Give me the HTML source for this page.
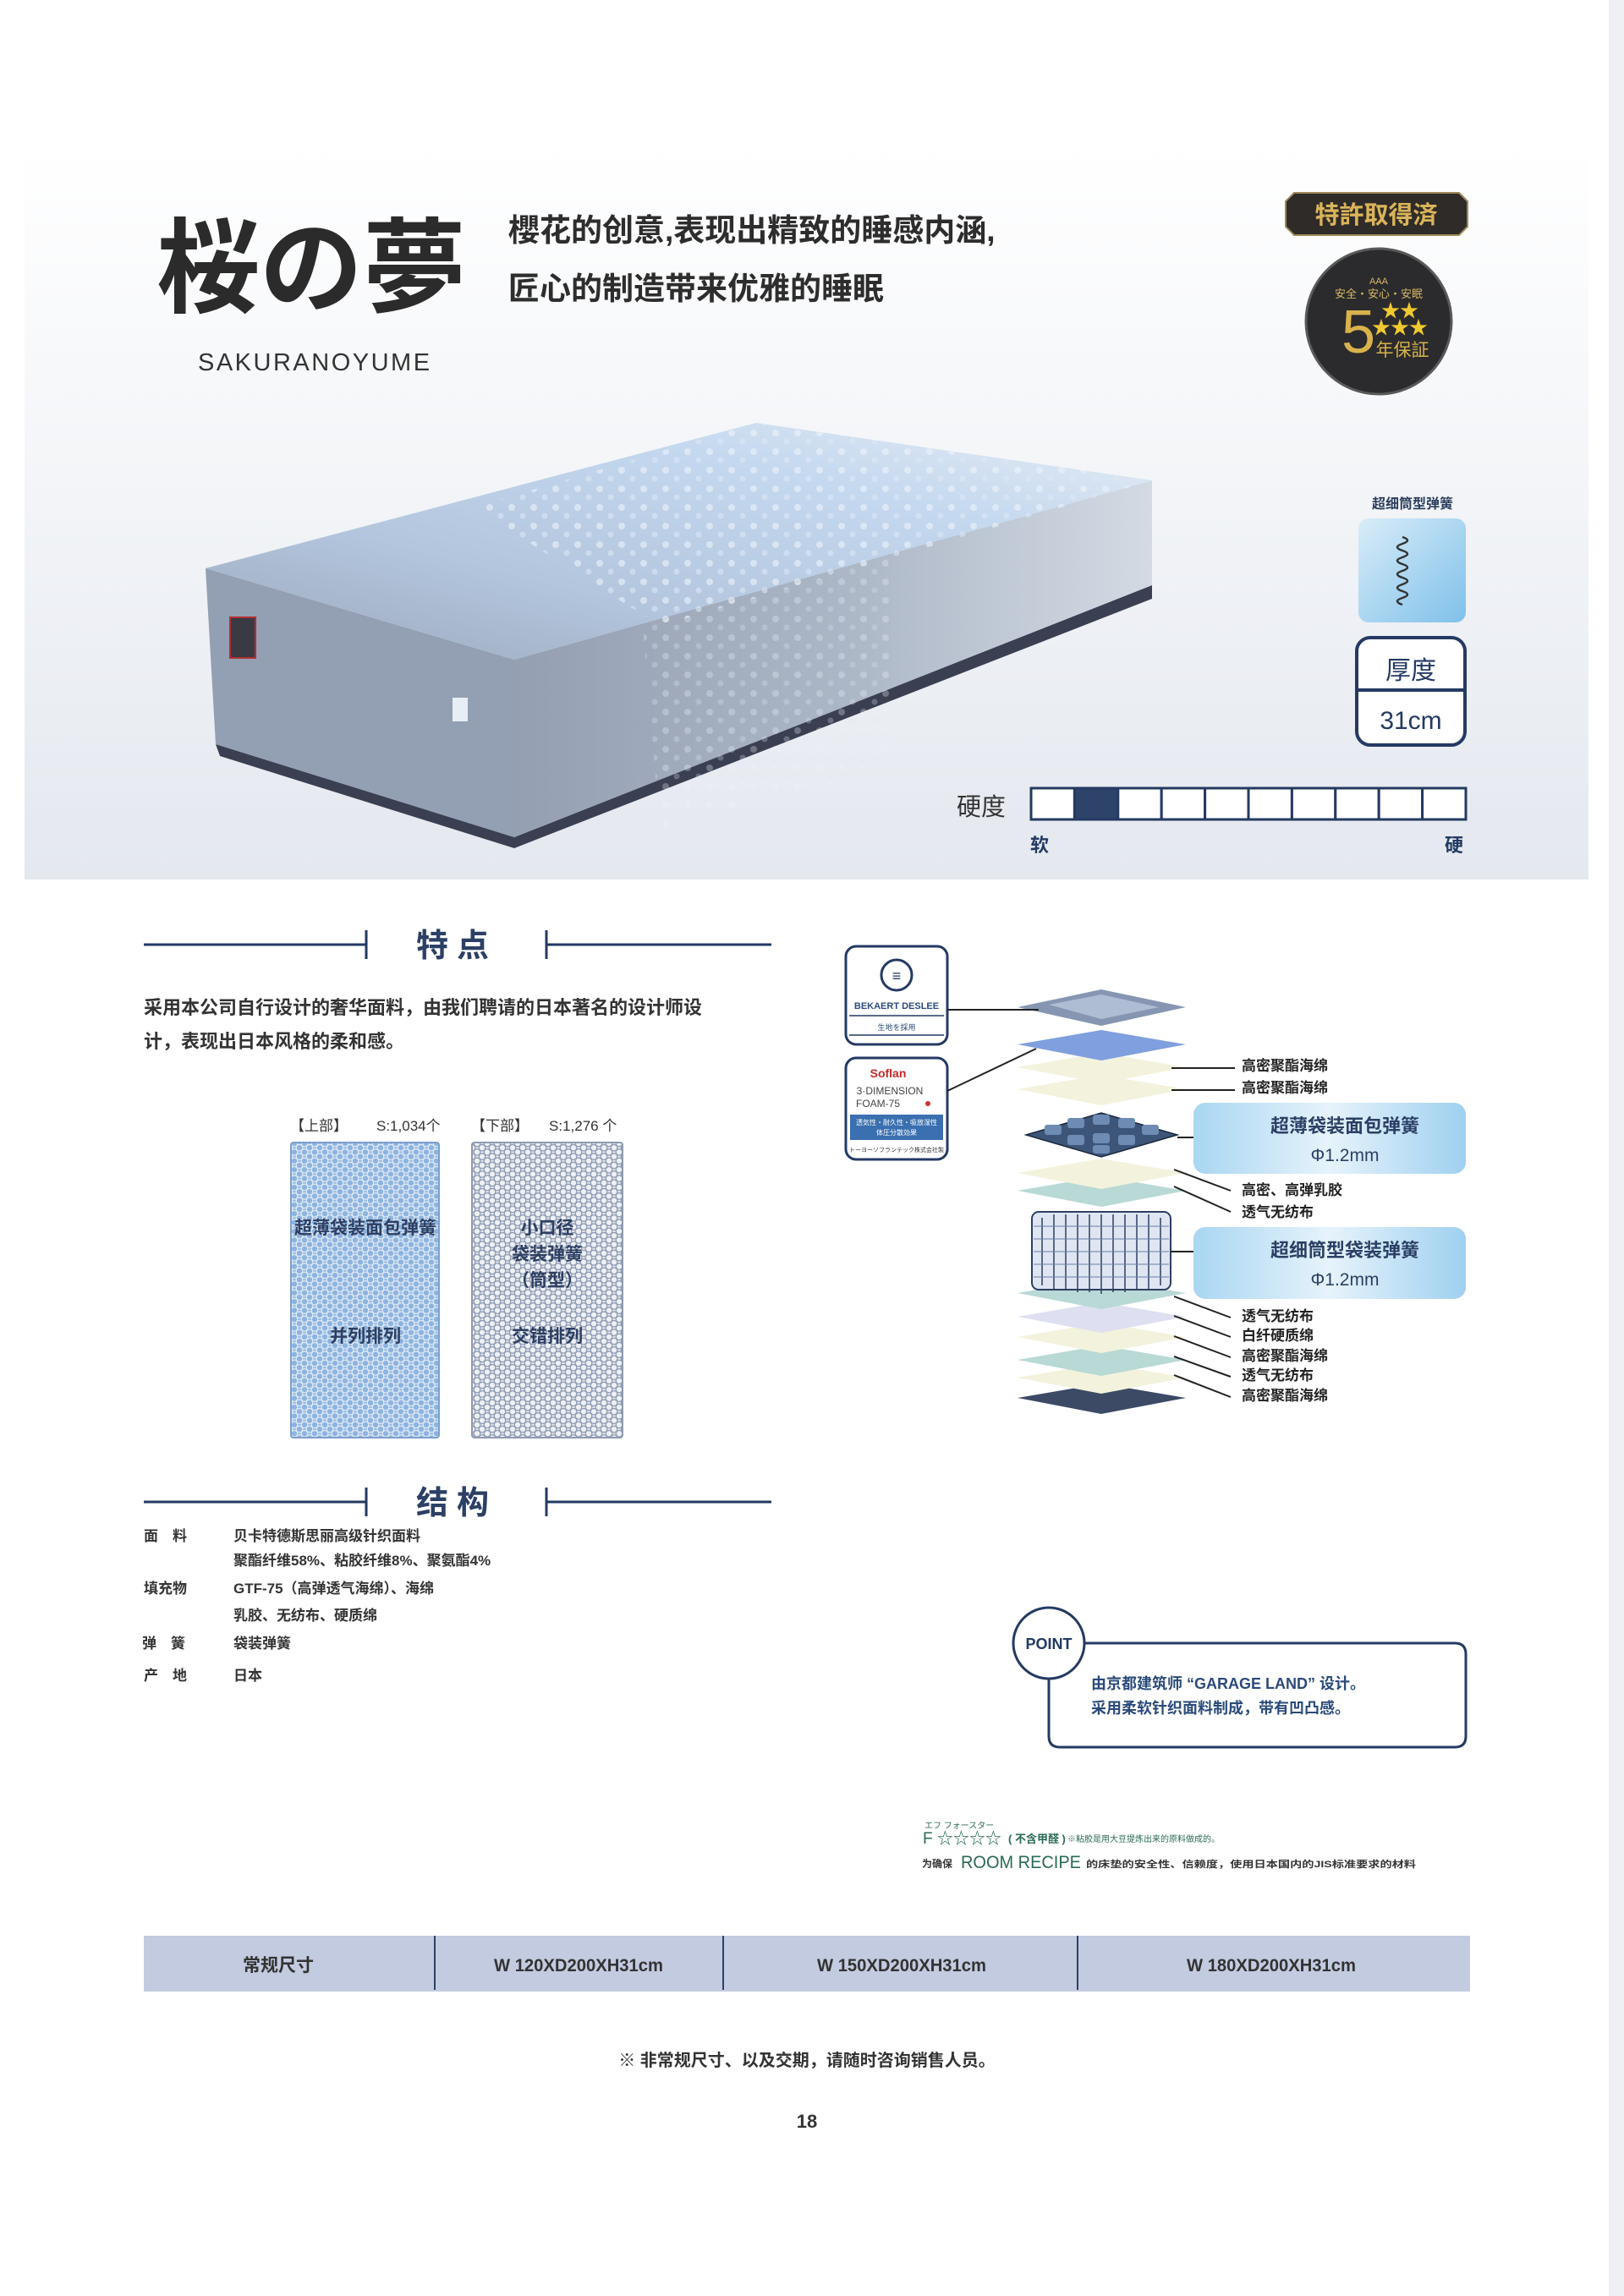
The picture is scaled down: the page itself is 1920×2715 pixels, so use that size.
<!DOCTYPE html>
<html><head><meta charset="utf-8">
<style>
html,body{margin:0;padding:0;background:#fff;}
body{width:1920px;height:2715px;overflow:hidden;position:relative;font-family:"Liberation Sans","Noto Sans CJK SC",sans-serif;}
svg{position:absolute;left:0;top:0;}
text{font-family:"Liberation Sans","Noto Sans CJK SC",sans-serif;}
</style></head>
<body>
<svg width="1920" height="2715" viewBox="0 0 1920 2715" xmlns="http://www.w3.org/2000/svg">
<defs>
<linearGradient id="bg" x1="0" y1="0" x2="0" y2="1">
<stop offset="0" stop-color="#ffffff"/><stop offset="0.45" stop-color="#f3f5f8"/><stop offset="1" stop-color="#e4e8ef"/>
</linearGradient>
<linearGradient id="topf" x1="0" y1="1" x2="1" y2="0">
<stop offset="0" stop-color="#9aa6b9"/><stop offset="0.35" stop-color="#b3c6de"/><stop offset="0.7" stop-color="#c4d8ef"/><stop offset="1" stop-color="#e8eef5"/>
</linearGradient>
<linearGradient id="sidef" x1="0" y1="0" x2="1" y2="0">
<stop offset="0" stop-color="#959fb2"/><stop offset="0.5" stop-color="#aab5c5"/><stop offset="1" stop-color="#d3dae3"/>
</linearGradient>
<linearGradient id="spr" x1="0" y1="0" x2="1" y2="1">
<stop offset="0" stop-color="#d9ecf8"/><stop offset="1" stop-color="#7fc1ea"/>
</linearGradient>
<linearGradient id="lbl" x1="0" y1="0" x2="1" y2="0">
<stop offset="0" stop-color="#a9d6f2"/><stop offset="0.5" stop-color="#e6f3fb"/><stop offset="1" stop-color="#9fd0f0"/>
</linearGradient>
<pattern id="hexA" width="12" height="10.4" patternUnits="userSpaceOnUse">
<rect width="12" height="10.4" fill="#8db3df"/>
<circle cx="6" cy="5.2" r="3.8" fill="none" stroke="#dbe7f5" stroke-width="1.3"/>
<circle cx="0" cy="0" r="3.8" fill="none" stroke="#dbe7f5" stroke-width="1.3"/>
<circle cx="12" cy="0" r="3.8" fill="none" stroke="#dbe7f5" stroke-width="1.3"/>
<circle cx="0" cy="10.4" r="3.8" fill="none" stroke="#dbe7f5" stroke-width="1.3"/>
<circle cx="12" cy="10.4" r="3.8" fill="none" stroke="#dbe7f5" stroke-width="1.3"/>
</pattern>
<pattern id="hexB" width="12" height="10.4" patternUnits="userSpaceOnUse">
<rect width="12" height="10.4" fill="#eef0f4"/>
<circle cx="6" cy="5.2" r="3.8" fill="none" stroke="#8e9bb3" stroke-width="1.3"/>
<circle cx="0" cy="0" r="3.8" fill="none" stroke="#8e9bb3" stroke-width="1.3"/>
<circle cx="12" cy="0" r="3.8" fill="none" stroke="#8e9bb3" stroke-width="1.3"/>
<circle cx="0" cy="10.4" r="3.8" fill="none" stroke="#8e9bb3" stroke-width="1.3"/>
<circle cx="12" cy="10.4" r="3.8" fill="none" stroke="#8e9bb3" stroke-width="1.3"/>
</pattern>
<pattern id="flw" width="26" height="22" patternUnits="userSpaceOnUse">
<circle cx="7" cy="6" r="4" fill="#eef4fb" opacity="0.85"/>
<circle cx="20" cy="16" r="3.5" fill="#dfe9f6" opacity="0.8"/>
</pattern>
</defs>

<rect x="1902" y="0" width="18" height="2715" fill="#eef0f3"/>
<rect x="29" y="170" width="1849" height="870" fill="url(#bg)"/>

<text x="185" y="360" font-family="'Noto Serif CJK SC','Liberation Serif',serif" font-weight="bold" font-size="122" fill="#2b2b2b">桜の夢</text>
<text x="234" y="438" font-size="29" fill="#333" letter-spacing="2.5">SAKURANOYUME</text>
<text x="601" y="285" font-size="37" font-weight="bold" fill="#2d2d2d">櫻花的创意,表现出精致的睡感内涵,</text>
<text x="601" y="354" font-size="37" font-weight="bold" fill="#2d2d2d">匠心的制造带来优雅的睡眠</text>

<path d="M1530 228 H1725 L1735 238 V268 L1725 278 H1530 L1520 268 V238 Z" fill="#2f2b28" stroke="#9d8a5a" stroke-width="2"/>
<text x="1627" y="264" text-anchor="middle" font-size="29" font-weight="bold" fill="#d9b45a">特許取得済</text>
<circle cx="1630" cy="380" r="86" fill="#2b2b2d" stroke="#595959" stroke-width="3"/>
<text x="1630" y="336" text-anchor="middle" font-size="11" fill="#d8b767">AAA</text>
<text x="1630" y="352" text-anchor="middle" font-size="13" fill="#d8b767">安全・安心・安眠</text>
<text x="1606" y="417" text-anchor="middle" font-size="72" fill="#d9b24c">5</text>
<text x="1655" y="375" text-anchor="middle" font-size="22" fill="#f0c830">★★</text>
<text x="1655" y="395" text-anchor="middle" font-size="22" fill="#f0c830">★★★</text>
<text x="1658" y="421" text-anchor="middle" font-size="21" fill="#d9b24c">年保証</text>

<polygon points="255,880 608,990 1362,692 1362,708 608,1003 260,894" fill="#3a3f52"/>
<polygon points="243,672 608,780 608,990 255,880" fill="#939fb3"/>
<polygon points="608,780 1362,568 1362,692 608,990" fill="url(#sidef)"/>
<polygon points="243,672 894,500 1362,568 608,780" fill="url(#topf)"/>
<polygon points="560,600 894,500 1362,568 1100,646 780,740" fill="url(#flw)" opacity="0.7"/>
<polygon points="760,740 1050,660 1060,900 780,980" fill="url(#flw)" opacity="0.35"/>
<rect x="272" y="730" width="30" height="48" fill="#3a3a44" stroke="#b03030" stroke-width="2"/>
<rect x="535" y="825" width="18" height="28" fill="#e8eef5"/>

<text x="1670" y="601" text-anchor="middle" font-size="16" font-weight="bold" fill="#2a3c5c">超细筒型弹簧</text>
<rect x="1606" y="613" width="127" height="123" rx="12" fill="url(#spr)"/>
<path d="M1658 635 q12 4 0 8 q-12 4 0 8 q12 4 0 8 q-12 4 0 8 q12 4 0 8 q-12 4 0 8 q12 4 0 8 q-12 4 0 8 q12 4 0 8 q-12 4 0 8" fill="none" stroke="#333" stroke-width="2.5"/>
<rect x="1604" y="754" width="128" height="127" rx="16" fill="#fff" stroke="#243a63" stroke-width="4"/>
<line x1="1604" y1="816" x2="1732" y2="816" stroke="#243a63" stroke-width="4"/>
<text x="1668" y="803" text-anchor="middle" font-size="30" fill="#243a63">厚度</text>
<text x="1668" y="862" text-anchor="middle" font-size="30" fill="#243a63">31cm</text>

<text x="1131" y="964" font-size="29" fill="#333">硬度</text>
<g stroke="#243a63" stroke-width="3" fill="#fff">
<rect x="1219" y="932" width="51.4" height="37"/><rect x="1270.4" y="932" width="51.4" height="37" fill="#2d4468"/>
<rect x="1321.8" y="932" width="51.4" height="37"/><rect x="1373.2" y="932" width="51.4" height="37"/>
<rect x="1424.6" y="932" width="51.4" height="37"/><rect x="1476" y="932" width="51.4" height="37"/>
<rect x="1527.4" y="932" width="51.4" height="37"/><rect x="1578.8" y="932" width="51.4" height="37"/>
<rect x="1630.2" y="932" width="51.4" height="37"/><rect x="1681.6" y="932" width="51.4" height="37"/>
</g>
<text x="1229" y="1007" text-anchor="middle" font-size="22" font-weight="bold" fill="#243a63">软</text>
<text x="1719" y="1007" text-anchor="middle" font-size="22" font-weight="bold" fill="#243a63">硬</text>

<g stroke="#243a63" stroke-width="3">
<line x1="170" y1="1117" x2="433" y2="1117"/><line x1="433" y1="1100" x2="433" y2="1134"/>
<line x1="646" y1="1100" x2="646" y2="1134"/><line x1="646" y1="1117" x2="912" y2="1117"/>
</g>
<text x="540" y="1131" text-anchor="middle" font-size="38" font-weight="bold" fill="#2c4066" letter-spacing="10">特点</text>
<text x="170" y="1199" font-size="22" font-weight="bold" fill="#333">采用本公司自行设计的奢华面料，由我们聘请的日本著名的设计师设</text>
<text x="170" y="1239" font-size="22" font-weight="bold" fill="#333">计，表现出日本风格的柔和感。</text>

<text x="343" y="1337" font-size="17" fill="#333">【上部】</text>
<text x="445" y="1337" font-size="17" fill="#333">S:1,034个</text>
<text x="557" y="1337" font-size="17" fill="#333">【下部】</text>
<text x="649" y="1337" font-size="17" fill="#333">S:1,276 个</text>
<rect x="344" y="1351" width="175" height="349" rx="3" fill="url(#hexA)" stroke="#7e9fcc" stroke-width="2"/>
<rect x="558" y="1351" width="178" height="349" rx="3" fill="url(#hexB)" stroke="#8f9ab0" stroke-width="2"/>
<g font-size="21" font-weight="bold" fill="#2e3f63" text-anchor="middle">
<text x="432" y="1459">超薄袋装面包弹簧</text>
<text x="432" y="1587">并列排列</text>
<text x="647" y="1459">小口径</text>
<text x="647" y="1490">袋装弹簧</text>
<text x="647" y="1521">（筒型）</text>
<text x="647" y="1587">交错排列</text>
</g>

<g stroke="#243a63" stroke-width="3">
<line x1="170" y1="1776" x2="433" y2="1776"/><line x1="433" y1="1759" x2="433" y2="1793"/>
<line x1="646" y1="1759" x2="646" y2="1793"/><line x1="646" y1="1776" x2="912" y2="1776"/>
</g>
<text x="540" y="1790" text-anchor="middle" font-size="38" font-weight="bold" fill="#2c4066" letter-spacing="10">结构</text>
<g font-size="17" font-weight="bold" fill="#333">
<text x="170" y="1822">面　料</text><text x="276" y="1822">贝卡特德斯思丽高级针织面料</text>
<text x="276" y="1851">聚酯纤维58%、粘胶纤维8%、聚氨酯4%</text>
<text x="170" y="1884">填充物</text><text x="276" y="1884">GTF-75（高弹透气海绵）、海绵</text>
<text x="276" y="1916">乳胶、无纺布、硬质绵</text>
<text x="168" y="1949">弹　簧</text><text x="276" y="1949">袋装弹簧</text>
<text x="170" y="1987">产　地</text><text x="276" y="1987">日本</text>
</g>

<rect x="1000" y="1119" width="120" height="116" rx="12" fill="#fff" stroke="#243a63" stroke-width="3"/>
<circle cx="1060" cy="1153" r="18" fill="none" stroke="#243a63" stroke-width="3"/>
<text x="1060" y="1160" text-anchor="middle" font-size="18" font-weight="bold" fill="#243a63">≡</text>
<text x="1060" y="1193" text-anchor="middle" font-size="11" font-weight="bold" fill="#2c4a7a">BEKAERT DESLEE</text>
<line x1="1004" y1="1201" x2="1116" y2="1201" stroke="#243a63" stroke-width="1.5"/>
<text x="1060" y="1218" text-anchor="middle" font-size="9" fill="#2c4a7a">生地を採用</text>
<line x1="1004" y1="1224" x2="1116" y2="1224" stroke="#243a63" stroke-width="1.5"/>
<rect x="1000" y="1251" width="120" height="120" rx="12" fill="#fff" stroke="#243a63" stroke-width="3"/>
<text x="1050" y="1274" text-anchor="middle" font-size="14" font-weight="bold" fill="#c62828">Soflan</text>
<text x="1052" y="1294" text-anchor="middle" font-family="'Liberation Serif',serif" font-size="12" fill="#444">3·DIMENSION</text>
<text x="1038" y="1309" text-anchor="middle" font-family="'Liberation Serif',serif" font-size="12" fill="#444">FOAM-75</text>
<circle cx="1097" cy="1305" r="3" fill="#d32f2f"/>
<rect x="1005" y="1318" width="110" height="30" fill="#3a6fb0"/>
<text x="1060" y="1330" text-anchor="middle" font-size="8" fill="#fff">透気性・耐久性・吸放湿性</text>
<text x="1060" y="1342" text-anchor="middle" font-size="8" fill="#fff">体圧分散効果</text>
<text x="1060" y="1362" text-anchor="middle" font-size="7" fill="#333">トーヨーソフランテック株式会社製</text>

<g>
<polygon points="1203,1653 1302,1636 1402,1653 1302,1672" fill="#3c4a66"/>
<polygon points="1203,1629 1302,1612 1402,1629 1302,1648" fill="#f3f2dc"/>
<polygon points="1203,1608 1302,1591 1402,1608 1302,1627" fill="#b8d9d6"/>
<polygon points="1203,1581 1302,1564 1402,1581 1302,1600" fill="#f3f2dc"/>
<polygon points="1203,1557 1302,1540 1402,1557 1302,1576" fill="#dfdff2"/>
<polygon points="1203,1529 1302,1512 1402,1529 1302,1548" fill="#b8d9d6"/>
<rect x="1220" y="1433" width="164" height="92" rx="8" fill="#dfe6f2" stroke="#2e3f63" stroke-width="2"/>
<g stroke="#2e3f63" stroke-width="1.5" fill="none">
<path d="M1232 1440 V1520 M1246 1436 V1524 M1260 1436 V1526 M1274 1436 V1528 M1288 1436 V1528 M1302 1436 V1530 M1316 1436 V1528 M1330 1436 V1528 M1344 1436 V1526 M1358 1436 V1524 M1372 1440 V1520"/>
<path d="M1222 1450 H1382 M1222 1465 H1382 M1222 1480 H1382 M1222 1495 H1382 M1222 1510 H1382" stroke="#6b7fa5" stroke-width="1"/>
</g>
<polygon points="1203,1408 1302,1391 1402,1408 1302,1427" fill="#b8d9d6"/>
<polygon points="1203,1387 1302,1370 1402,1387 1302,1406" fill="#f3f2dc"/>
<polygon points="1213,1342 1302,1316 1392,1342 1302,1368" fill="#3d5578" stroke="#1d2940" stroke-width="1.5"/>
<g fill="#6d8bb3">
<rect x="1235" y="1330" width="20" height="12" rx="3"/><rect x="1262" y="1322" width="20" height="12" rx="3"/><rect x="1292" y="1318" width="20" height="12" rx="3"/><rect x="1322" y="1322" width="20" height="12" rx="3"/><rect x="1350" y="1330" width="20" height="12" rx="3"/>
<rect x="1262" y="1342" width="20" height="12" rx="3"/><rect x="1292" y="1340" width="20" height="12" rx="3"/><rect x="1322" y="1342" width="20" height="12" rx="3"/><rect x="1292" y="1354" width="20" height="10" rx="3"/>
</g>
<polygon points="1203,1288 1302,1271 1402,1288 1302,1307" fill="#f3f2dc"/>
<polygon points="1203,1262 1302,1245 1402,1262 1302,1281" fill="#f3f2dc"/>
<polygon points="1203,1235 1302,1218 1402,1235 1302,1254" fill="#7f9fde"/>
<polygon points="1203,1191 1302,1170 1402,1191 1302,1213" fill="#8696b2"/>
<polygon points="1240,1188 1302,1176 1370,1191 1302,1205" fill="#b8c6dc" opacity="0.8"/>
</g>
<g stroke="#222" stroke-width="2" fill="none">
<line x1="1120" y1="1194" x2="1228" y2="1194"/>
<line x1="1120" y1="1290" x2="1225" y2="1240"/>
<line x1="1385" y1="1263" x2="1460" y2="1263"/>
<line x1="1385" y1="1289" x2="1460" y2="1289"/>
<line x1="1392" y1="1345" x2="1411" y2="1345"/>
<line x1="1388" y1="1383" x2="1455" y2="1408"/>
<line x1="1388" y1="1403" x2="1455" y2="1433"/>
<line x1="1384" y1="1480" x2="1411" y2="1480"/>
<line x1="1388" y1="1533" x2="1455" y2="1558"/>
<line x1="1388" y1="1556" x2="1455" y2="1581"/>
<line x1="1388" y1="1580" x2="1455" y2="1605"/>
<line x1="1388" y1="1604" x2="1455" y2="1628"/>
<line x1="1388" y1="1626" x2="1455" y2="1652"/>
</g>
<g font-size="17" font-weight="bold" fill="#222">
<text x="1468" y="1266">高密聚酯海绵</text>
<text x="1468" y="1292">高密聚酯海绵</text>
<text x="1468" y="1413">高密、高弹乳胶</text>
<text x="1468" y="1439">透气无纺布</text>
<text x="1468" y="1562">透气无纺布</text>
<text x="1468" y="1585">白纤硬质绵</text>
<text x="1468" y="1609">高密聚酯海绵</text>
<text x="1468" y="1632">透气无纺布</text>
<text x="1468" y="1656">高密聚酯海绵</text>
</g>
<rect x="1411" y="1304" width="322" height="84" rx="14" fill="url(#lbl)"/>
<text x="1590" y="1339" text-anchor="middle" font-size="22" font-weight="bold" fill="#2c4066">超薄袋装面包弹簧</text>
<text x="1590" y="1373" text-anchor="middle" font-size="21" fill="#2c4066">Φ1.2mm</text>
<rect x="1411" y="1451" width="322" height="85" rx="14" fill="url(#lbl)"/>
<text x="1590" y="1486" text-anchor="middle" font-size="22" font-weight="bold" fill="#2c4066">超细筒型袋装弹簧</text>
<text x="1590" y="1520" text-anchor="middle" font-size="21" fill="#2c4066">Φ1.2mm</text>

<path d="M1282 1943 H1720 Q1733 1943 1733 1956 V2053 Q1733 2066 1720 2066 H1253 Q1240 2066 1240 2053 V1985" fill="none" stroke="#243a63" stroke-width="3"/>
<circle cx="1240" cy="1943" r="42" fill="#fff" stroke="#243a63" stroke-width="3"/>
<text x="1240" y="1950" text-anchor="middle" font-size="18" font-weight="bold" fill="#243a63">POINT</text>
<text x="1290" y="1997" font-size="18" font-weight="bold" fill="#2a4a7a">由京都建筑师 “GARAGE LAND” 设计。</text>
<text x="1290" y="2026" font-size="18" font-weight="bold" fill="#2a4a7a">采用柔软针织面料制成，带有凹凸感。</text>

<text x="1093" y="2162" font-size="10" fill="#2a6a55">エフ フォースター</text>
<text x="1091" y="2180" font-size="19" fill="#2a6a55">F ☆☆☆☆</text>
<text x="1192" y="2179" font-size="13" font-weight="bold" fill="#2a6a55">( 不含甲醛 )</text>
<text x="1262" y="2178" font-size="10" fill="#2a6a55">※粘胶是用大豆提炼出来的原料做成的。</text>
<text x="1090" y="2208" font-size="12" font-weight="bold" fill="#333">为确保</text>
<text x="1136" y="2209" font-size="21" fill="#2a6a55" textLength="142" lengthAdjust="spacingAndGlyphs">ROOM RECIPE</text>
<text x="1284" y="2208" font-size="11" font-weight="bold" fill="#333" textLength="390" lengthAdjust="spacingAndGlyphs">的床垫的安全性、信赖度，使用日本国内的JIS标准要求的材料</text>

<rect x="170" y="2289" width="1568" height="66" fill="#c3cbe1"/>
<g stroke="#2c4066" stroke-width="2">
<line x1="514" y1="2289" x2="514" y2="2353"/><line x1="855" y1="2289" x2="855" y2="2353"/><line x1="1274" y1="2289" x2="1274" y2="2353"/>
</g>
<g font-size="21" font-weight="bold" fill="#333" text-anchor="middle">
<text x="329" y="2331">常规尺寸</text>
<text x="684" y="2331" textLength="200" lengthAdjust="spacingAndGlyphs">W 120XD200XH31cm</text>
<text x="1066" y="2331" textLength="200" lengthAdjust="spacingAndGlyphs">W 150XD200XH31cm</text>
<text x="1503" y="2331" textLength="200" lengthAdjust="spacingAndGlyphs">W 180XD200XH31cm</text>
</g>
<text x="954" y="2443" text-anchor="middle" font-size="20" font-weight="bold" fill="#333">※ 非常规尺寸、以及交期，请随时咨询销售人员。</text>
<text x="954" y="2516" text-anchor="middle" font-size="22" font-weight="bold" fill="#333">18</text>
</svg>
</body></html>
